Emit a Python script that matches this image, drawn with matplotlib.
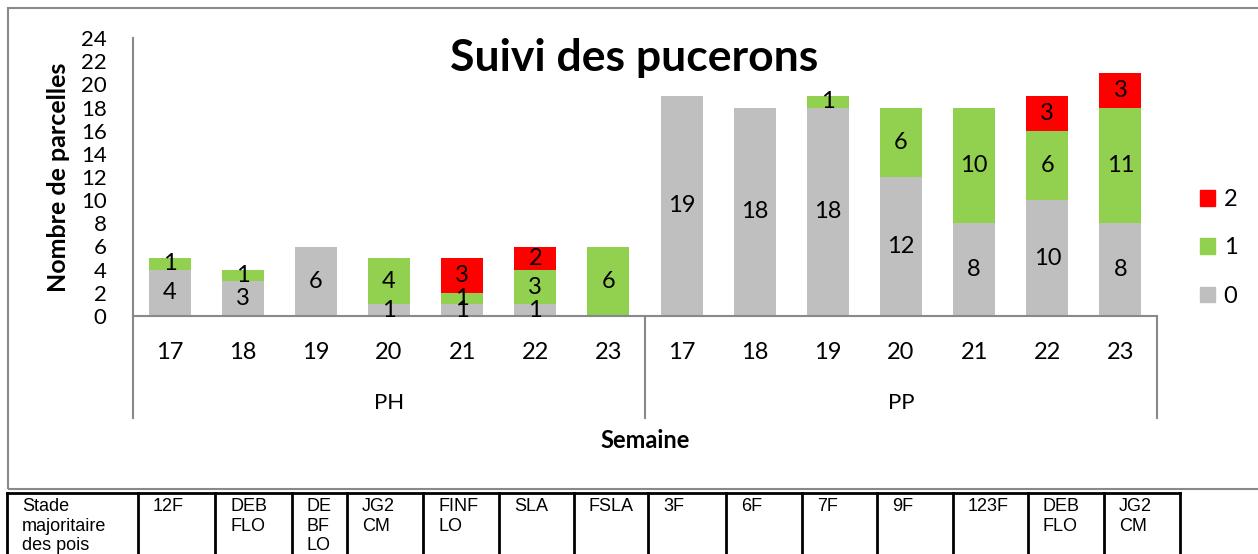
import matplotlib
matplotlib.use('Agg')
import matplotlib.pyplot as plt
import matplotlib.transforms as mtransforms
from matplotlib.lines import Line2D
from matplotlib.patches import Rectangle, Patch
import numpy as np

W, H = 1258, 554

groupes = ['PH', 'PP']
semaines = [17, 18, 19, 20, 21, 22, 23, 17, 18, 19, 20, 21, 22, 23]

# nombre de parcelles par classe de pucerons
classe0 = [4, 3, 6, 1, 1, 1, 0, 19, 18, 18, 12, 8, 10, 8]
classe1 = [1, 1, 0, 4, 1, 3, 6, 0, 0, 1, 6, 10, 6, 10]
classe2 = [0, 0, 0, 0, 3, 2, 0, 0, 0, 0, 0, 0, 3, 3]
# etiquettes telles qu'affichees (la derniere barre verte porte "11")
etiq1 = [1, 1, 0, 4, 1, 3, 6, 0, 0, 1, 6, 10, 6, 11]

stades = ['12F', 'DEB\nFLO', 'DE\nBF\nLO', 'JG2\nCM', 'FINF\nLO', 'SLA', 'FSLA',
          '3F', '6F', '7F', '9F', '123F', 'DEB\nFLO', 'JG2\nCM']
bords_table = [7, 138, 215, 292, 347, 423, 499, 574, 648, 726, 802, 877, 953, 1028, 1104, 1180]

gris = '#BFBFBF'
vert = '#92D050'
rouge = '#FF0000'
axe = '#898989'

plt.rcParams['font.family'] = ['Lato', 'DejaVu Sans']


def fx(px):
    return px / W


def fy(py):
    return 1 - py / H


fig = plt.figure(figsize=(W / 100, H / 100), dpi=100)

# cadre du graphique
fig.add_artist(Rectangle((fx(8), fy(489)), fx(1300), fy(8) - fy(489),
                         transform=fig.transFigure, fill=False, edgecolor=axe, linewidth=1.5))

ax = fig.add_axes([fx(133), fy(316), fx(1157) - fx(133), fy(38) - fy(316)])

x = np.arange(len(semaines))
c0 = np.array(classe0)
c1 = np.array(classe1)
c2 = np.array(classe2)
largeur = 0.575

b0 = ax.bar(x, c0, largeur, color=gris, label='0')
b1 = ax.bar(x, c1, largeur, bottom=c0, color=vert, label='1')
b2 = ax.bar(x, c2, largeur, bottom=c0 + c1, color=rouge, label='2')

def lab(vals):
    return [str(v) if v else '' for v in vals]

ax.bar_label(b0, labels=lab(classe0), label_type='center', fontsize=17)
ax.bar_label(b1, labels=lab(etiq1), label_type='center', fontsize=17)
ax.bar_label(b2, labels=lab(classe2), label_type='center', fontsize=17)

ax.set_xlim(-0.5, len(semaines) - 0.5)
ax.set_ylim(0, 24)
ax.set_yticks(range(0, 25, 2))
ax.set_xticks(x)
ax.set_xticklabels(semaines)
ax.tick_params(axis='y', length=0, pad=19, labelsize=16)
ax.tick_params(axis='x', length=0, pad=19, labelsize=17)
for s in ['top', 'right']:
    ax.spines[s].set_visible(False)
for s in ['left', 'bottom']:
    ax.spines[s].set_color(axe)
    ax.spines[s].set_linewidth(1.5)

trans = mtransforms.blended_transform_factory(ax.transData, fig.transFigure)
for xs in [-0.5, 6.5, 13.5]:
    ax.add_line(Line2D([xs, xs], [fy(316), fy(418)], transform=trans, color=axe,
                       linewidth=1.5, clip_on=False))
for i, g in enumerate(groupes):
    ax.text(3 + 7 * i, fy(403), g, transform=trans, ha='center', va='center', fontsize=16)

fig.text(fx(645), fy(440), 'Semaine', ha='center', va='center', fontsize=17, fontweight='bold')
fig.text(fx(59), fy(177), 'Nombre de parcelles', ha='center', va='center', rotation=90,
         fontsize=18, fontweight='bold')
fig.text(fx(634), fy(58), 'Suivi des pucerons', ha='center', va='center', fontsize=32,
         fontweight='bold')

handles = [Patch(color=rouge), Patch(color=vert), Patch(color=gris)]
fig.legend(handles, ['2', '1', '0'], loc='center left', bbox_to_anchor=(fx(1179), fy(248)),
           frameon=False, fontsize=17, handlelength=0.64, handleheight=0.64,
           handletextpad=0.35, labelspacing=1.15)

# tableau des stades
noir = 'black'
fig.add_artist(Line2D([fx(bords_table[0]), fx(bords_table[-1])], [fy(493), fy(493)],
                      transform=fig.transFigure, color=noir, linewidth=2))
for b in bords_table:
    fig.add_artist(Line2D([fx(b), fx(b)], [fy(493), fy(560)],
                          transform=fig.transFigure, color=noir, linewidth=2))
cellules = ['Stade\nmajoritaire\ndes pois'] + stades
for b, t in zip(bords_table[:-1], cellules):
    fig.text(fx(b + 15), fy(498), t, ha='left', va='top', fontsize=13,
             family=['Liberation Sans', 'DejaVu Sans'], linespacing=1.2)

fig.savefig('out.png', dpi=100)
